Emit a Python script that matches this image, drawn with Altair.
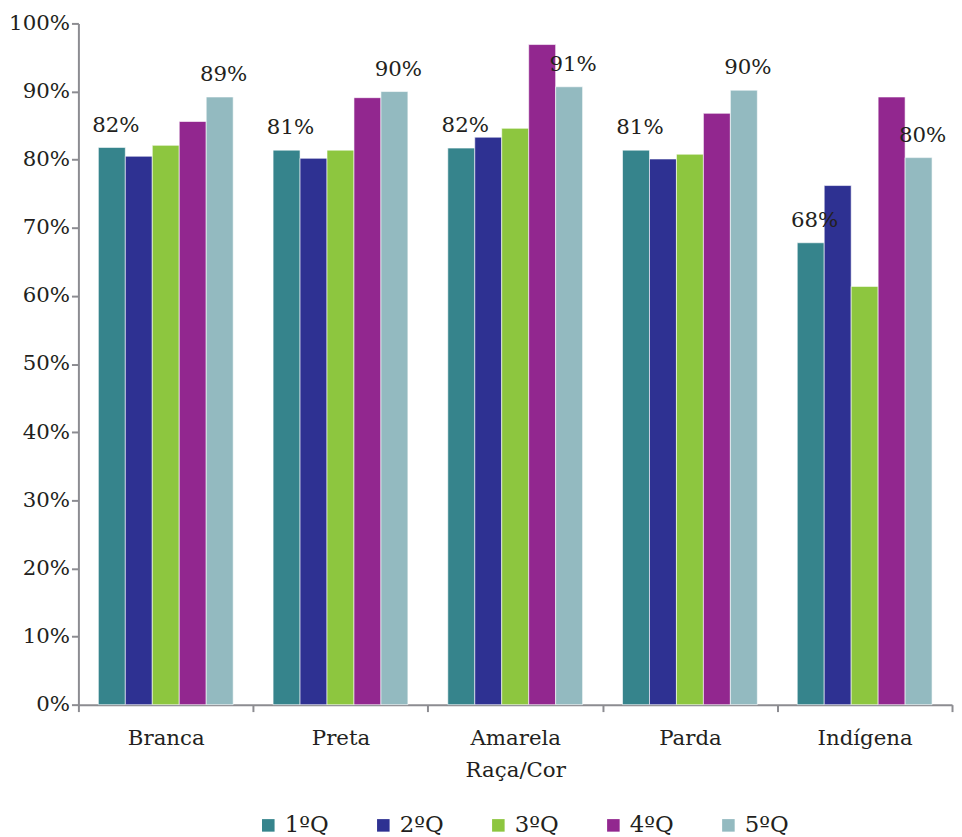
import altair as alt
import pandas as pd

categorias = ["Branca", "Preta", "Amarela", "Parda", "Indígena"]
quintis = ["1ºQ", "2ºQ", "3ºQ", "4ºQ", "5ºQ"]
q1 = [81.8, 81.4, 81.7, 81.4, 67.8]
q2 = [80.5, 80.2, 83.3, 80.1, 76.2]
q3 = [82.1, 81.4, 84.6, 80.8, 61.4]
q4 = [85.6, 89.1, 96.9, 86.8, 89.2]
q5 = [89.2, 90.0, 90.7, 90.2, 80.3]
cores = ["#36848C", "#2E3192", "#8DC63F", "#92278F", "#93BAC0"]
rotulados = ["1ºQ", "5ºQ"]

rows = []
for qi, serie in zip(quintis, [q1, q2, q3, q4, q5]):
    for c, v in zip(categorias, serie):
        rows.append({"Raça/Cor": c, "Quintil": qi, "valor": v,
                     "rotulo": f"{round(v)}%" if qi in rotulados else ""})
df = pd.DataFrame(rows)

FONT = "DejaVu Serif"
TXT = "#231F20"

x = alt.X("Raça/Cor:N", sort=categorias, title="Raça/Cor",
          scale=alt.Scale(paddingInner=0, paddingOuter=0),
          axis=alt.Axis(labelAngle=0, tickBand="extent", tickSize=7,
                        labelPadding=16, titlePadding=11))
xo = alt.XOffset("Quintil:N", sort=quintis,
                 scale=alt.Scale(paddingInner=0, paddingOuter=0.74))

base = alt.Chart(df)

bars = base.mark_bar(stroke="#ffffff", strokeWidth=1, strokeOpacity=0.6).encode(
    x=x,
    xOffset=xo,
    y=alt.Y("valor:Q", scale=alt.Scale(domain=[0, 100], nice=False),
            title=None,
            axis=alt.Axis(values=list(range(0, 101, 10)), labelExpr="datum.value + '%'",
                          grid=False, tickSize=7, labelPadding=2)),
    color=alt.Color("Quintil:N", sort=quintis,
                    scale=alt.Scale(domain=quintis, range=cores),
                    legend=alt.Legend(title=None, orient="none", direction="horizontal",
                                      legendX=180, legendY=797, padding=0,
                                      symbolType="square", symbolSize=160,
                                      symbolStrokeWidth=0, labelFontSize=23,
                                      labelOffset=5,
                                      labelFont=FONT, labelColor=TXT,
                                      columnPadding=43)),
)

labels = base.transform_filter(alt.datum.rotulo != "").mark_text(
    baseline="bottom", dy=-11, dx=4, font=FONT, fontSize=21.5, color=TXT
).encode(
    x=x,
    xOffset=xo,
    y="valor:Q",
    text="rotulo:N",
)

chart = (bars + labels).properties(
    width=881, height=687,
    autosize=alt.AutoSizeParams(type="none"),
    padding={"left": 71, "top": 12, "right": 2, "bottom": 140},
).configure_view(
    stroke=None
).configure_axis(
    labelFont=FONT, titleFont=FONT, labelFontSize=21.5, titleFontSize=21.5,
    labelColor=TXT, titleColor=TXT, titleFontWeight="normal",
    domainColor="#8C8C91", tickColor="#8C8C91", domainWidth=2, tickWidth=2
)

chart.save("out.html", embed_options={"renderer": "svg", "actions": False})
